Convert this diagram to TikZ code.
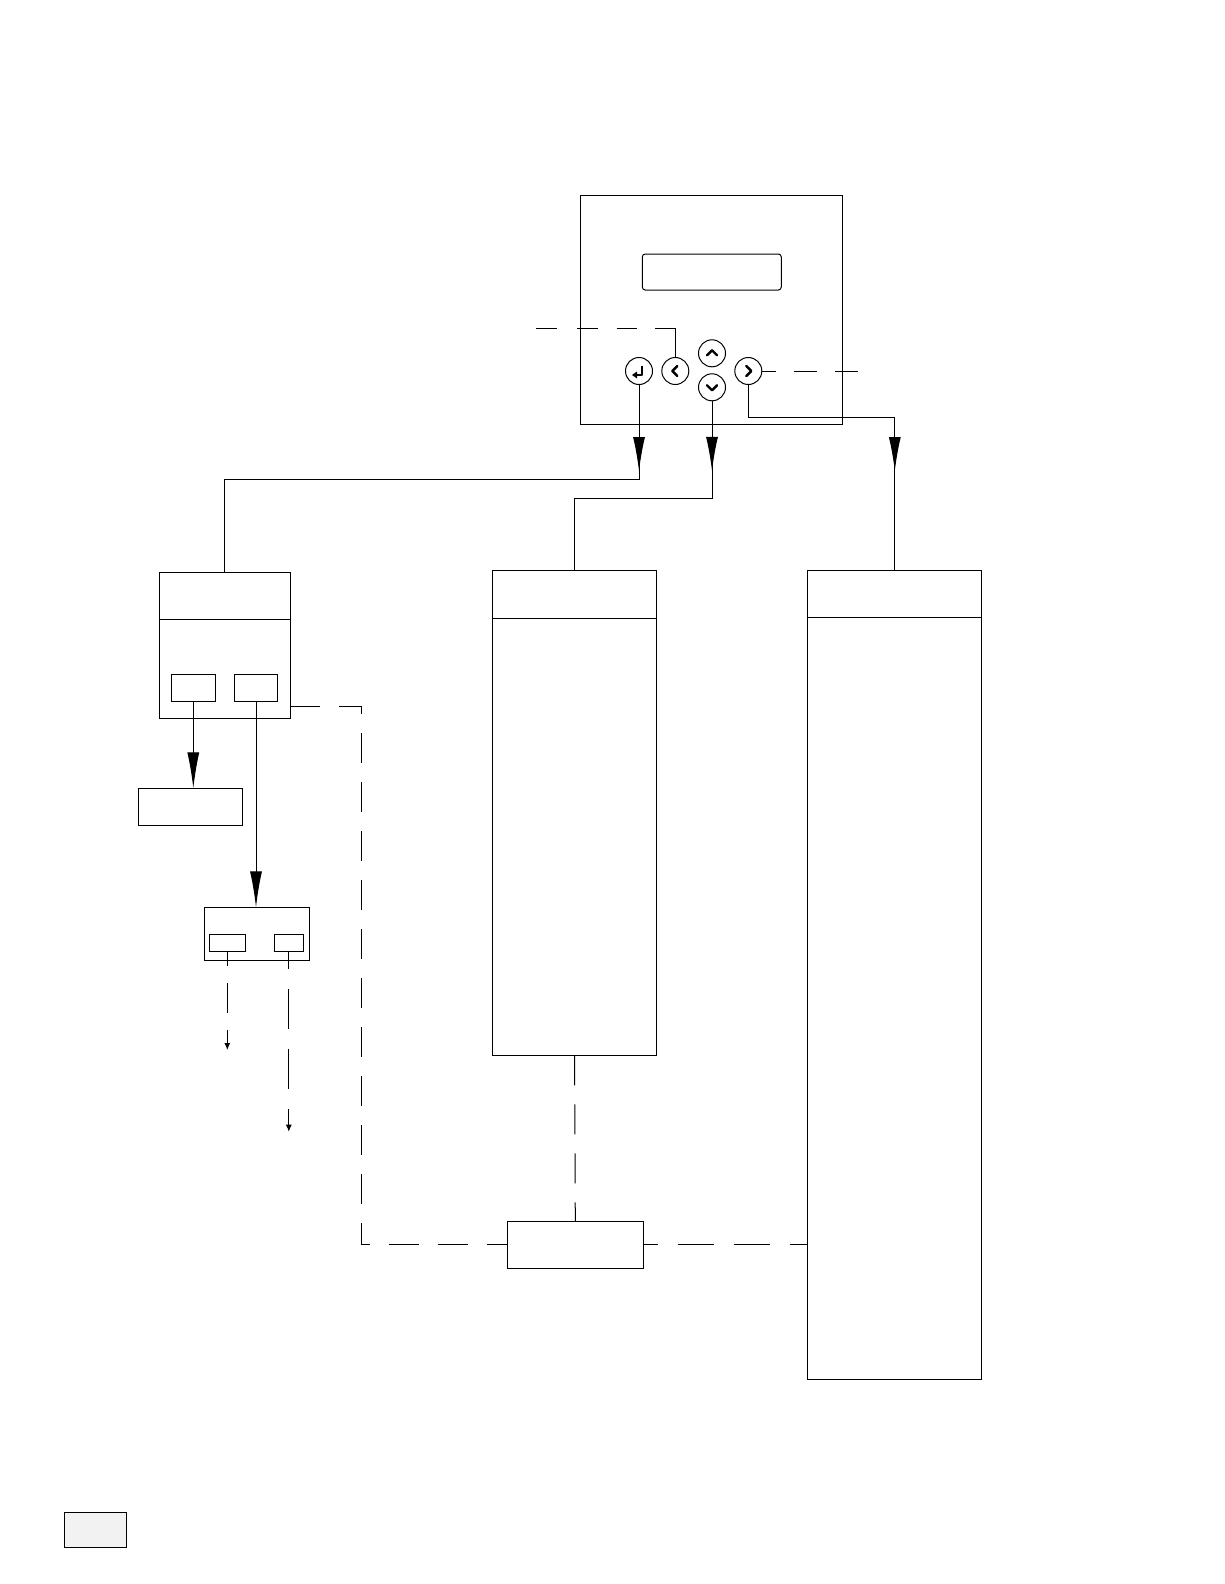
\documentclass[tikz,border=0pt]{standalone}
\usepackage{xcolor}
\usepackage{tikz}
\usetikzlibrary{arrows.meta,positioning,calc,decorations.markings}
\definecolor{kplegend}{RGB}{242,242,242}
\tikzset{
  kpbox/.style={draw=black, line width=1pt, fill=white, inner sep=0pt, outer sep=0pt},
  kpround/.style={kpbox, rounded corners=3pt},
  kpkey/.style={draw=black, circle, line width=1pt, fill=white, minimum size=27pt, inner sep=0pt, outer sep=0pt},
  kpglyph/.style={line width=2.4pt, line cap=round, line join=round},
  kpline/.style={line width=1pt},
  kpdash/.style={line width=1pt, dash pattern=on 30pt off 19pt},
  kphead/.style={-{Latex[length=36pt,width=12pt]}, line width=1pt},
  kpsmall/.style={-{Latex[length=7pt,width=6pt]}, line width=1pt},
  kpmid/.style={postaction={decorate}, decoration={markings,
      mark=at position #1 with {\arrow{Latex[length=34pt,width=12pt]}}}}
}

\begin{document}
\begin{tikzpicture}[x=1pt, y=-1pt]
  \useasboundingbox (0,0) rectangle (1224,1584);
  % keypad
  \node[kpbox, minimum width=262pt, minimum height=229pt] (panel) at (711,309.5) {};
  \node[kpround, minimum width=139pt, minimum height=36pt] (display) at (711.8,272) {};
  \node[kpkey] (keyenter) at (639,371) {};
  \node[kpkey] (keyleft) at (675.3,371) {};
  \node[kpkey] (keyup) at (712,353.3) {};
  \node[kpkey] (keydown) at (712,387.3) {};
  \node[kpkey] (keyright) at (748.3,371) {};
  \draw[kpglyph] ([shift={(2,-5)}]keyleft.center) -- ([shift={(-3,0)}]keyleft.center) -- ([shift={(2,5)}]keyleft.center);
  \draw[kpglyph] ([shift={(-2,-5)}]keyright.center) -- ([shift={(3,0)}]keyright.center) -- ([shift={(-2,5)}]keyright.center);
  \draw[kpglyph] ([shift={(-5,2)}]keyup.center) -- ([shift={(0,-3)}]keyup.center) -- ([shift={(5,2)}]keyup.center);
  \draw[kpglyph] ([shift={(-5,-2)}]keydown.center) -- ([shift={(0,3)}]keydown.center) -- ([shift={(5,-2)}]keydown.center);
  \draw[line width=2pt, line join=round] ([shift={(3,-5)}]keyenter.center) -- ([shift={(3,4)}]keyenter.center) -- ([shift={(-3,4)}]keyenter.center);
  \fill ([shift={(-7,4)}]keyenter.center) -- ([shift={(-2,0.5)}]keyenter.center) -- ([shift={(-2,7.5)}]keyenter.center) -- cycle;

  % menus
  \node[kpbox, minimum width=131pt, minimum height=146pt] (menubox) at (224.8,645.3) {};
  \node[kpbox, minimum width=44pt, minimum height=27pt] (menukeya) at (193.3,687.8) {};
  \node[kpbox, minimum width=43.4pt, minimum height=27pt] (menukeyb) at (256,687.8) {};
  \node[kpbox, minimum width=104pt, minimum height=37pt] (menuout) at (190.3,806.8) {};
  \node[kpbox, minimum width=105pt, minimum height=53pt] (subbox) at (256.8,933.8) {};
  \node[kpbox, minimum width=36pt, minimum height=17pt] (subkeya) at (227.3,942.8) {};
  \node[kpbox, minimum width=29pt, minimum height=17pt] (subkeyb) at (288.8,942.8) {};
  \node[kpbox, minimum width=163.6pt, minimum height=484.7pt] (midcol) at (574.6,813) {};
  \node[kpbox, minimum width=173.7pt, minimum height=808.9pt] (rightcol) at (894.8,975) {};
  \node[kpbox, minimum width=136pt, minimum height=47pt] (hub) at (575.3,1244.8) {};
  \node[kpbox, fill=kplegend, minimum width=62.4pt, minimum height=35pt] (legend) at (95.5,1529.8) {};
  \draw[kpline] ([yshift=-47pt]menubox.north west) -- ([yshift=-47pt]menubox.north east);
  \draw[kpline] ([yshift=-47.4pt]midcol.north west) -- ([yshift=-47.4pt]midcol.north east);
  \draw[kpline] ([yshift=-47.4pt]rightcol.north west) -- ([yshift=-47.4pt]rightcol.north east);

  % key connectors
  \coordinate (enterbend) at (639,479);
  \coordinate (downbend) at (712,498);
  \coordinate (rightbend) at (748.3,417.7);
  \draw[kpline, kpmid=86.5pt] (keyenter.south) -- (enterbend) -| (menubox.north);
  \draw[kpline, kpmid=70pt] (keydown.south) -- (downbend) -| (midcol.north);
  \draw[kpline, kpmid=233pt] (keyright.south) -- (rightbend) -| (rightcol.north);
  \coordinate (leftfree) at (536,328.3);
  \coordinate (rightfree) at (859,371);
  \draw[kpdash, dash pattern=on 20.7pt off 20.3pt on 20.7pt off 19pt on 20pt off 18.3pt on 100pt off 1pt] (leftfree) -| (keyleft.north);
  \draw[kpdash, dash pattern=on 23pt off 18.3pt, dash phase=9.3pt] (keyright.east) -- (rightfree);

  % menu connectors
  \draw[kphead] (menukeya.south) -- (menukeya.south |- menuout.north);
  \draw[kphead] (menukeyb.south) -- (menukeyb.south |- subbox.north);
  \coordinate (subaend) at (227.3,1050);
  \coordinate (subbend) at (288.8,1131.7);
  \draw[kpsmall, dash pattern=on 30pt off 17pt, dash phase=15pt] (subkeya.south) -- (subaend);
  \draw[kpsmall, dash pattern=on 40pt off 20pt, dash phase=22pt] (subkeyb.south) -- (subbend);
  \coordinate (dashbend) at (361.3,706);
  \draw[kpdash] ([yshift=12.3pt]menubox.south east) -- (dashbend) |- (hub.west);
  \draw[kpdash] (midcol.south) -- (hub.north);
  \draw[kpdash, dash pattern=on 36pt off 20pt, dash phase=21.6pt] (hub.east) -- (hub.east -| rightcol.west);
\end{tikzpicture}
\end{document}
